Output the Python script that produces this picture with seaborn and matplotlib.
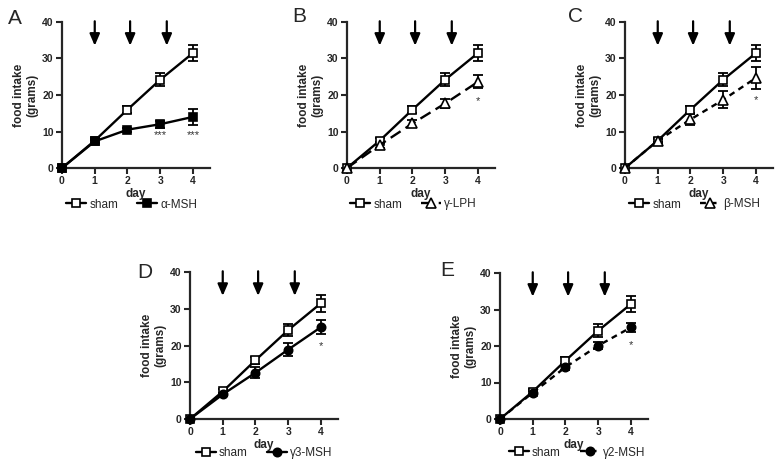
import matplotlib
matplotlib.use("Agg")
import matplotlib.pyplot as plt
import seaborn as sns
import pandas as pd
import numpy as np

days = [0, 1, 2, 3, 4]
sham = [0, 7.5, 16.0, 24.2, 31.5]
sham_err = [0, 0.6, 1.0, 1.7, 2.3]

alpha_msh = [0, 7.3, 10.5, 12.0, 14.0]
alpha_err = [0, 0.4, 0.5, 1.0, 2.2]
gamma_lph = [0, 6.3, 12.2, 17.7, 23.6]
gamma_lph_err = [0, 0.8, 1.0, 1.2, 1.8]
beta_msh = [0, 7.5, 13.3, 18.7, 24.7]
beta_err = [0, 0.4, 1.5, 2.3, 3.0]
g3_msh = [0, 6.7, 12.6, 18.9, 25.0]
g3_err = [0, 0.4, 1.5, 1.8, 2.0]
g2_msh = [0, 7.2, 14.2, 20.1, 25.1]
g2_err = [0, 0.4, 0.8, 1.0, 1.3]

arrow_days = [1.0, 2.08, 3.2]

sns.set_style("ticks")
plt.rcParams['font.family'] = ['Liberation Sans', 'DejaVu Sans']

fig = plt.figure(figsize=(7.76, 4.63), dpi=100)
W, H = 776, 463

def make_ax(x0, ytop, ybot, w=148):
    return fig.add_axes([x0 / W, 1 - ybot / H, w / W, (ybot - ytop) / H])

panels = [
    dict(label='A', lx=8, ly=18, x0=62, ytop=22, ybot=168, name='α-MSH', y=alpha_msh, e=alpha_err,
         marker='s', mfc='black', ls='-', stars=[(3, '***'), (4, '***')], stary=[9.0, 9.0], legx=0.47, legy=-0.25),
    dict(label='B', lx=292, ly=16, x0=347, ytop=22, ybot=168, name='γ-LPH', y=gamma_lph, e=gamma_lph_err,
         marker='^', mfc='white', ls=(0, (5, 2.5)), stars=[(4, '*')], stary=[18.3], legx=0.45, legy=-0.25),
    dict(label='C', lx=568, ly=16, x0=625, ytop=22, ybot=168, name='β-MSH', y=beta_msh, e=beta_err,
         marker='^', mfc='white', ls=(0, (2.5, 2)), stars=[(4, '*')], stary=[18.7], legx=0.47, legy=-0.25),
    dict(label='D', lx=137, ly=272, x0=190, ytop=272, ybot=419, name='γ3-MSH', y=g3_msh, e=g3_err,
         marker='o', mfc='black', ls='-', stars=[(4, '*')], stary=[19.8], legx=0.50, legy=-0.23),
    dict(label='E', lx=440, ly=270, x0=500, ytop=273, ybot=419, name='γ2-MSH', y=g2_msh, e=g2_err,
         marker='o', mfc='black', ls=(0, (2.5, 2)), stars=[(4, '*')], stary=[20.2], legx=0.52, legy=-0.23),
]

for p in panels:
    ax = make_ax(p['x0'], p['ytop'], p['ybot'])
    df = pd.DataFrame({'day': days * 2,
                       'intake': sham + p['y'],
                       'group': ['sham'] * 5 + [p['name']] * 5})
    ax.errorbar(days[1:], sham[1:], yerr=sham_err[1:], fmt='none', ecolor='black',
                elinewidth=1.3, capsize=3.5, capthick=1.3, zorder=2)
    ax.errorbar(days[1:], p['y'][1:], yerr=p['e'][1:], fmt='none', ecolor='black',
                elinewidth=1.3, capsize=3.5, capthick=1.3, zorder=2)
    sns.lineplot(data=df[df.group == 'sham'], x='day', y='intake', ax=ax, color='black',
                 lw=1.7, marker='s', markersize=6, markerfacecolor='white',
                 markeredgecolor='black', markeredgewidth=1.2, label='sham', clip_on=False, zorder=4)
    sns.lineplot(data=df[df.group == p['name']], x='day', y='intake', ax=ax, color='black',
                 lw=1.7, linestyle=p['ls'], marker=p['marker'],
                 markersize=6 if p['marker'] != '^' else 7, markerfacecolor=p['mfc'],
                 markeredgecolor='black', markeredgewidth=1.2, label=p['name'], clip_on=False, zorder=5)
    ax.set_xlim(0, 4.52)
    ax.set_ylim(0, 40)
    ax.set_xticks([0, 1, 2, 3, 4])
    ax.set_yticks([0, 10, 20, 30, 40])
    for s in ['top', 'right']:
        ax.spines[s].set_visible(False)
    for s in ['left', 'bottom']:
        ax.spines[s].set_linewidth(1.6)
    ax.tick_params(axis='both', direction='out', length=4, width=1.5, labelsize=7.5, pad=2)
    for t in ax.get_xticklabels() + ax.get_yticklabels():
        t.set_fontweight('bold')
    ax.set_xlabel('day', fontsize=8.5, fontweight='bold', labelpad=1)
    ax.set_ylabel('food intake\n(grams)', fontsize=8.5, fontweight='bold', labelpad=3, linespacing=1.1)
    for d in arrow_days:
        ax.annotate('', xy=(d, 33.5), xytext=(d, 40.2),
                    arrowprops=dict(arrowstyle='-|>,head_length=0.7,head_width=0.3',
                                    color='black', lw=1.6, shrinkA=0, shrinkB=0),
                    annotation_clip=False)
    for (xd, txt), yy in zip(p['stars'], p['stary']):
        ax.text(xd, yy, txt, ha='center', va='center', fontsize=8, color='#333333')
    ax.legend(loc='center', bbox_to_anchor=(p['legx'], p['legy']), ncol=2, frameon=False,
              fontsize=8.5, handlelength=1.7, handletextpad=0.25, columnspacing=1.6,
              borderaxespad=0, borderpad=0)
    fig.text(p['lx'] / W, 1 - p['ly'] / H, p['label'], fontsize=15, va='center', ha='left')

fig.savefig('out.png', dpi=100)
